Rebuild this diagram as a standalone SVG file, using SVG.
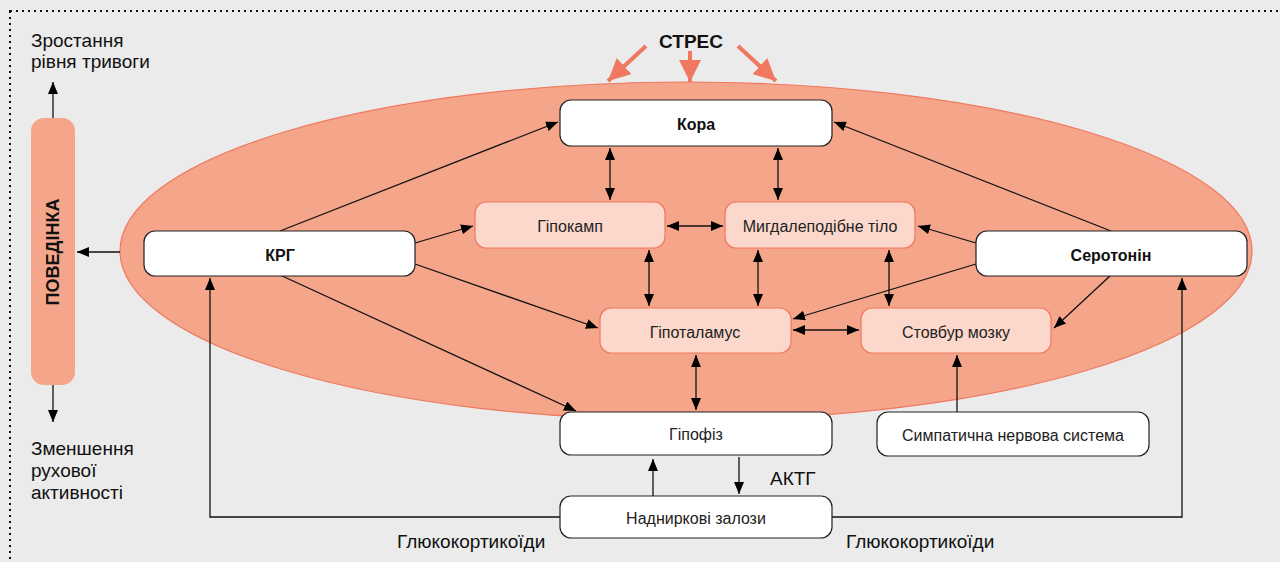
<svg xmlns="http://www.w3.org/2000/svg" width="1280" height="562" viewBox="0 0 1280 562">
<defs>
<marker id="ah" viewBox="0 0 12 10" refX="12" refY="5" markerWidth="12" markerHeight="10" markerUnits="userSpaceOnUse" orient="auto-start-reverse"><path d="M0,0 L12,5 L0,10 z" fill="#000"/></marker>
<marker id="sh" viewBox="0 0 22 22" refX="22" refY="11" markerWidth="22" markerHeight="22" markerUnits="userSpaceOnUse" orient="auto"><path d="M0,0 L22,11 L0,22 z" fill="#F07860"/></marker>
<style>
.t{font-family:"Liberation Sans",Arial,sans-serif;font-size:16px;fill:#222;text-anchor:middle;dominant-baseline:central}
.b{font-weight:bold;fill:#111}
.lbl{font-family:"Liberation Sans",Arial,sans-serif;font-size:19px;fill:#111}
.w{fill:#fff;stroke:#222;stroke-width:1.2}
.p{fill:#FBD8CB;stroke:#F07860;stroke-width:1.2}
.c{stroke:#111;stroke-width:1.3;fill:none}
.s{stroke:#F07860;stroke-width:4;fill:none}
</style>
</defs>
<rect width="1280" height="562" fill="#EBEBEB"/>
<rect x="10" y="11" width="1300" height="600" fill="none" stroke="#111" stroke-width="2" stroke-dasharray="2,4"/>
<ellipse cx="686" cy="251" rx="566" ry="169" fill="#F4A58A" stroke="#F07860" stroke-width="1.2"/>
<g id="connectors">
<line class="c" x1="53" y1="118" x2="53" y2="82" marker-end="url(#ah)"/>
<line class="c" x1="53" y1="385" x2="53" y2="422" marker-end="url(#ah)"/>
<line class="c" x1="120" y1="252" x2="77" y2="252" marker-end="url(#ah)"/>
<line class="c" x1="280" y1="231" x2="558" y2="122" marker-end="url(#ah)"/>
<line class="c" x1="415" y1="243" x2="473" y2="226" marker-end="url(#ah)"/>
<line class="c" x1="415" y1="264" x2="598" y2="328" marker-end="url(#ah)"/>
<line class="c" x1="280" y1="275" x2="576" y2="411" marker-end="url(#ah)"/>
<line class="c" x1="1111" y1="231" x2="834" y2="122" marker-end="url(#ah)"/>
<line class="c" x1="976" y1="243" x2="918" y2="226" marker-end="url(#ah)"/>
<line class="c" x1="976" y1="264" x2="793" y2="319" marker-end="url(#ah)"/>
<line class="c" x1="1111" y1="275" x2="1054" y2="328" marker-end="url(#ah)"/>
<line class="c" x1="610" y1="148" x2="610" y2="200" marker-start="url(#ah)" marker-end="url(#ah)"/>
<line class="c" x1="778" y1="148" x2="778" y2="200" marker-start="url(#ah)" marker-end="url(#ah)"/>
<line class="c" x1="667" y1="226" x2="723" y2="226" marker-start="url(#ah)" marker-end="url(#ah)"/>
<line class="c" x1="649" y1="250" x2="649" y2="306" marker-start="url(#ah)" marker-end="url(#ah)"/>
<line class="c" x1="758" y1="250" x2="758" y2="306" marker-start="url(#ah)" marker-end="url(#ah)"/>
<line class="c" x1="889" y1="250" x2="889" y2="306" marker-start="url(#ah)" marker-end="url(#ah)"/>
<line class="c" x1="793" y1="330" x2="859" y2="330" marker-start="url(#ah)" marker-end="url(#ah)"/>
<line class="c" x1="696" y1="355" x2="696" y2="410" marker-start="url(#ah)" marker-end="url(#ah)"/>
<line class="c" x1="957" y1="412" x2="957" y2="355" marker-end="url(#ah)"/>
<line class="c" x1="739" y1="457" x2="739" y2="494" marker-end="url(#ah)"/>
<line class="c" x1="653" y1="496" x2="653" y2="459" marker-end="url(#ah)"/>
<polyline class="c" points="560,517 210,517 210,278" marker-end="url(#ah)"/>
<polyline class="c" points="832,517 1182,517 1182,278" marker-end="url(#ah)"/>
<line class="s" x1="646" y1="46" x2="608" y2="81" marker-end="url(#sh)"/>
<line class="s" x1="690" y1="51" x2="690" y2="82" marker-end="url(#sh)"/>
<line class="s" x1="738" y1="46" x2="776" y2="81" marker-end="url(#sh)"/>
</g>
<g id="povedinka"><rect x="31" y="118" width="44" height="267" rx="13" fill="#F4A58A"/><text class="t b" transform="translate(53,252) rotate(-90)" style="font-size:18px">ПОВЕДІНКА</text></g>
<g id="kora"><rect class="w" x="560" y="100" width="272" height="46" rx="11"/><text class="t b" x="696" y="124">Кора</text></g>
<g id="krg"><rect class="w" x="144" y="231" width="271" height="45" rx="11"/><text class="t b" x="280" y="255">КРГ</text></g>
<g id="serotonin"><rect class="w" x="976" y="231" width="271" height="45" rx="11"/><text class="t b" x="1111" y="255">Серотонін</text></g>
<g id="hippocampus"><rect class="p" x="475" y="202" width="190" height="46" rx="11"/><text class="t" x="570" y="226">Гіпокамп</text></g>
<g id="amygdala"><rect class="p" x="725" y="202" width="190" height="46" rx="11"/><text class="t" x="820" y="226">Мигдалеподібне тіло</text></g>
<g id="hypothalamus"><rect class="p" x="600" y="308" width="191" height="45" rx="11"/><text class="t" x="695" y="332">Гіпоталамус</text></g>
<g id="brainstem"><rect class="p" x="861" y="308" width="190" height="45" rx="11"/><text class="t" x="956" y="332">Стовбур мозку</text></g>
<g id="pituitary"><rect class="w" x="560" y="412" width="272" height="43" rx="11"/><text class="t" x="696" y="434">Гіпофіз</text></g>
<g id="sympathetic"><rect class="w" x="877" y="412" width="272" height="44" rx="11"/><text class="t" x="1013" y="435">Симпатична нервова система</text></g>
<g id="adrenal"><rect class="w" x="560" y="496" width="272" height="42" rx="11"/><text class="t" x="696" y="518">Надниркові залози</text></g>
<g id="labels">
<text class="lbl" x="691" y="48" text-anchor="middle" style="font-weight:bold">СТРЕС</text>
<text class="lbl" x="31" y="47">Зростання</text>
<text class="lbl" x="31" y="68">рівня тривоги</text>
<text class="lbl" x="31" y="455">Зменшення</text>
<text class="lbl" x="31" y="477">рухової</text>
<text class="lbl" x="31" y="499">активності</text>
<text class="lbl" x="770" y="485">АКТГ</text>
<text class="lbl" x="397" y="548">Глюкокортикоїди</text>
<text class="lbl" x="846" y="548">Глюкокортикоїди</text>
</g>
</svg>
